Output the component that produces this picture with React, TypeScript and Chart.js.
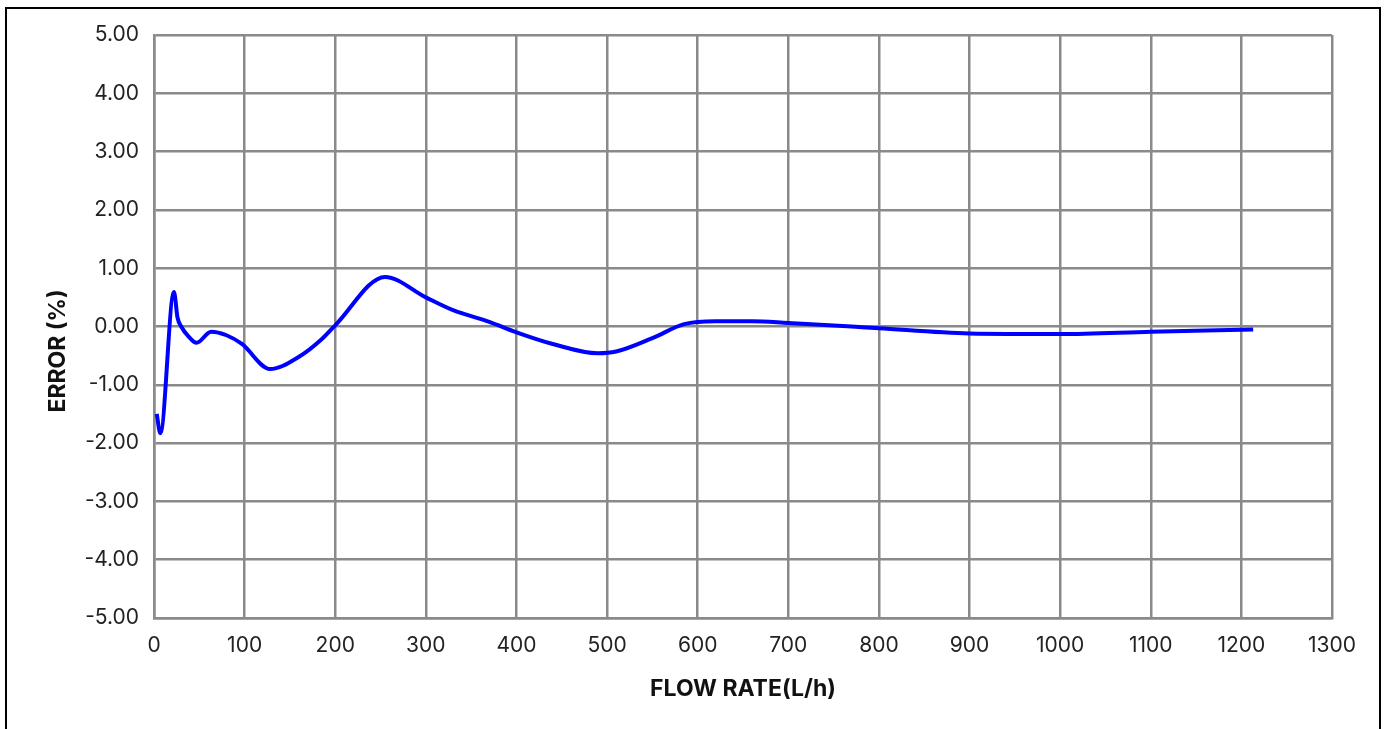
import React, { useEffect, useRef } from "react";
import { Chart, registerables } from "chart.js";

Chart.register(...registerables);

const flowRates = [3, 7, 22, 26, 30, 38, 47, 63, 80, 97, 128, 160, 185, 200, 255, 300, 330, 370, 400, 440, 490, 510, 550, 585, 620, 660, 700, 770, 800, 900, 1000, 1100, 1213];
const errorPct = [-1.5, -1.83, 0.59, 0.15, 0.0, -0.17, -0.28, -0.09, -0.15, -0.3, -0.73, -0.52, -0.22, 0.02, 0.85, 0.5, 0.28, 0.08, -0.1, -0.3, -0.46, -0.43, -0.2, 0.04, 0.09, 0.09, 0.06, 0.0, -0.03, -0.12, -0.13, -0.09, -0.05];

const xTicks = [0, 100, 200, 300, 400, 500, 600, 700, 800, 900, 1000, 1100, 1200, 1300];
const yTicks = [-5, -4, -3, -2, -1, 0, 1, 2, 3, 4, 5];

const xTitle = "FLOW RATE(L/h)";
const yTitle = "ERROR (%)";

export default function App() {
  const ref = useRef<HTMLCanvasElement | null>(null);

  useEffect(() => {
    if (!ref.current) return;
    const gridColor = "#8a8a8a";
    const chart = new Chart(ref.current, {
      type: "line",
      data: {
        datasets: [
          {
            data: flowRates.map((x, i) => ({ x, y: errorPct[i] })),
            borderColor: "#0000ff",
            borderWidth: 4,
            pointRadius: 0,
            cubicInterpolationMode: "monotone",
            fill: false,
          },
        ],
      },
      options: {
        animation: false,
        responsive: false,
        devicePixelRatio: 1,
        layout: { padding: { left: 40, top: 35, right: 54, bottom: 20 } },
        plugins: { legend: { display: false }, tooltip: { enabled: false } },
        scales: {
          x: {
            type: "linear",
            min: 0,
            max: 1300,
            afterBuildTicks: (s: any) => {
              s.ticks = xTicks.map((v) => ({ value: v }));
            },
            afterFit: (s: any) => {
              s.height = 91;
            },
            grid: { color: gridColor, lineWidth: 2.5, drawTicks: false },
            border: { color: gridColor, width: 2.5 },
            ticks: {
              padding: 15,
              color: "#222",
              font: { family: "Inter", size: 21 },
              maxRotation: 0,
              autoSkip: false,
              callback: (v: any) => String(v),
            },
            title: {
              display: true,
              text: xTitle,
              color: "#111",
              font: { family: "Inter", size: 23, weight: "bold" },
              padding: { top: 0, bottom: 6 },
            },
          },
          y: {
            type: "linear",
            min: -5,
            max: 5,
            afterBuildTicks: (s: any) => {
              s.ticks = yTicks.map((v) => ({ value: v }));
            },
            afterFit: (s: any) => {
              s.width = 114;
            },
            grid: { color: gridColor, lineWidth: 2.5, drawTicks: false },
            border: { color: gridColor, width: 2.5 },
            ticks: {
              padding: 15,
              color: "#222",
              font: { family: "Inter", size: 21 },
              callback: (v: any) => Number(v).toFixed(2),
            },
            title: {
              display: true,
              text: yTitle + "\u00A0".repeat(9),
              color: "#111",
              font: { family: "Inter", size: 23, weight: "bold" },
              padding: { top: 4, bottom: 0 },
            },
          },
        },
      },
    });
    return () => chart.destroy();
  }, []);

  return (
    <div style={{ position: "absolute", left: 0, top: 0, width: 1386, height: 729, background: "#fff" }}>
      <div
        style={{
          position: "absolute",
          left: 5,
          top: 7,
          width: 1372,
          height: 740,
          border: "2px solid #000",
          borderBottom: "none",
        }}
      />
      <canvas ref={ref} width={1386} height={729} style={{ position: "absolute", left: 0, top: 0 }} />
    </div>
  );
}
